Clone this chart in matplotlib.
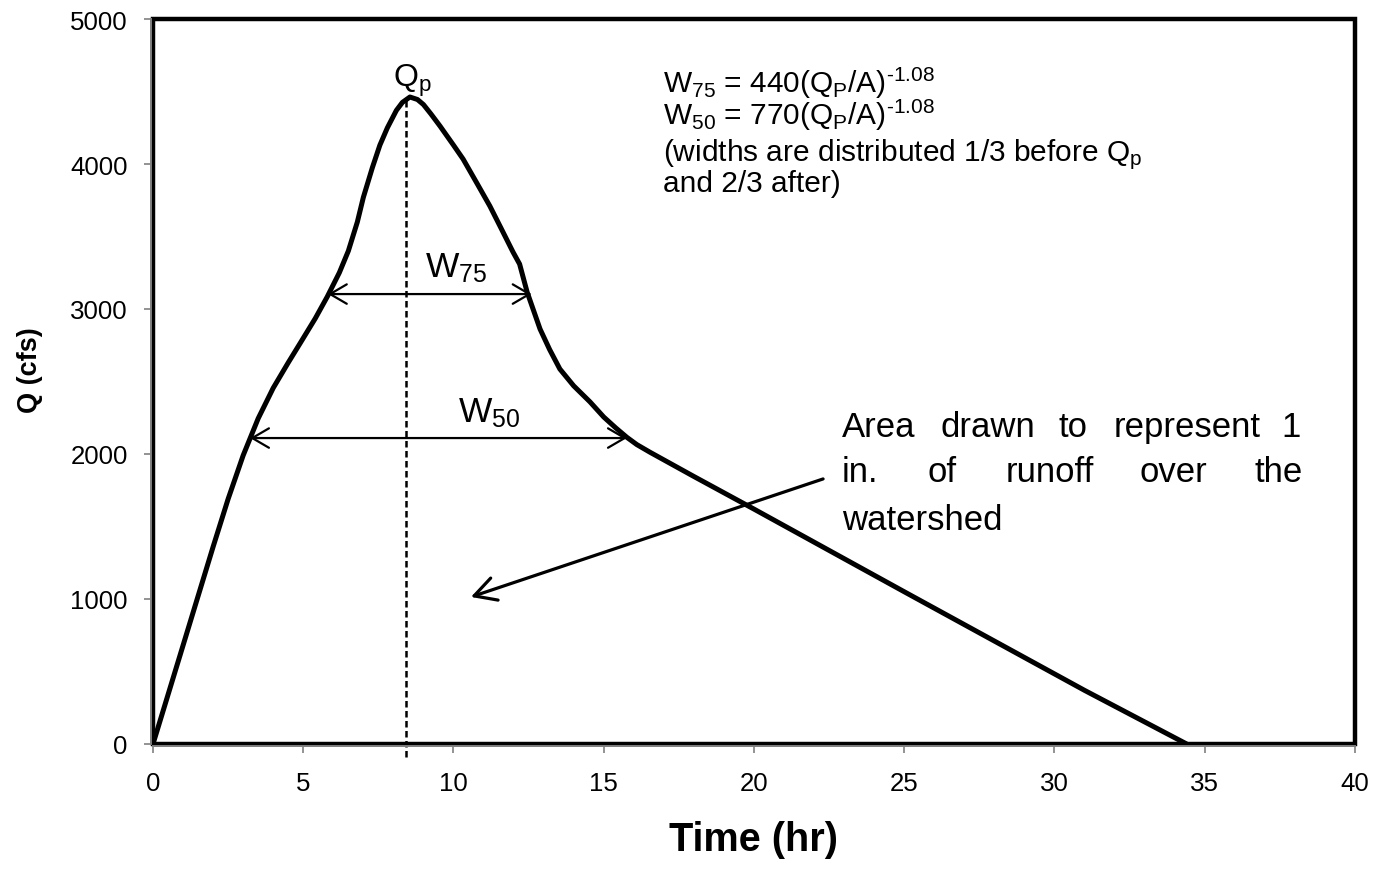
import matplotlib.pyplot as plt
from matplotlib.patches import Rectangle


plt.rcParams['font.family']      = ['Liberation Sans', 'DejaVu Sans']
plt.rcParams['mathtext.fontset'] = 'custom'
plt.rcParams['mathtext.rm']      = 'Liberation Sans'
plt.rcParams['mathtext.it']      = 'Liberation Sans:italic'
plt.rcParams['mathtext.bf']      = 'Liberation Sans:bold'

# hydrograph
time_hr = [0, 1, 2, 2.5, 3.0, 3.5, 4.0, 4.5, 4.9, 5.4, 5.8, 6.2, 6.5, 6.8,
           7.0, 7.3, 7.55, 7.8, 8.1, 8.3, 8.55, 8.8, 9.0, 9.25, 9.55, 10.0,
           10.32, 10.8, 11.21, 11.6, 11.98, 12.2, 12.45, 12.88, 13.2, 13.54,
           14.0, 14.54, 15.0, 15.4, 15.77, 16.1, 16.54, 18, 20, 22.5, 25,
           28, 31, 34.4]
flow_cfs = [0, 680, 1360, 1690, 1990, 2245, 2455, 2630, 2765, 2935, 3085,
            3250, 3400, 3600, 3770, 3975, 4130, 4250, 4370, 4425, 4462,
            4445, 4410, 4345, 4262, 4130, 4034, 3860, 3710, 3550, 3393,
            3310, 3117, 2862, 2720, 2586, 2470, 2360, 2255, 2180, 2115,
            2065, 2012, 1845, 1620, 1335, 1050, 710, 370, 0]

peak_time = 8.42
peak_flow = 4450

w75 = [5.82, 12.6, 3103]
w50 = [3.23, 15.77, 2110]

arrow_tail = [22.3, 1828]
arrow_head = [10.58, 1014]

x_ticks = [0, 5, 10, 15, 20, 25, 30, 35, 40]
y_ticks = [0, 1000, 2000, 3000, 4000, 5000]

formula_blocks = [r'W$_\mathrm{75}$ = 440(Q$_\mathrm{P}$/A)$^{\text{-1.08}}$' '\n'
                  r'W$_\mathrm{50}$ = 770(Q$_\mathrm{P}$/A)$^{\text{-1.08}}$',
                  r'(widths are distributed 1/3 before Q$_\mathrm{p}$' '\n'
                  'and 2/3 after)']
formula_y = [4276, 3814]

area_words = [['Area', 'drawn', 'to', 'represent', '1'],
              ['in.', 'of', 'runoff', 'over', 'the'],
              ['watershed']]
area_y = [2124, 1814, 1483]
area_x = [22.93, 38.17]


fig = plt.figure(figsize=[13.76, 8.7], dpi=100)
ax  = fig.add_axes([0.1112, 0.1437, 0.8735, 0.8333])

ax.plot(time_hr, flow_cfs, color='k', lw=3.6, solid_capstyle='butt',
        solid_joinstyle='round', zorder=4, clip_on=False)

ax.plot([peak_time, peak_time], [-90, peak_flow], color='k', lw=1.8,
        linestyle=(0, (2.6, 1.4)), clip_on=False, zorder=3)

# width arrows
for left, right, q in [w75, w50]:
    ax.annotate('', xy=(right, q), xytext=(left, q),
                arrowprops=dict(arrowstyle='<->,head_length=0.6,head_width=0.35',
                                lw=1.6, color='k', shrinkA=0, shrinkB=0,
                                mutation_scale=20))

ax.annotate('', xy=arrow_head, xytext=arrow_tail,
            arrowprops=dict(arrowstyle='->,head_length=0.7,head_width=0.38',
                            lw=2.3, color='k', shrinkA=0, shrinkB=0,
                            mutation_scale=22))

ax.text(9.05, 3228, r'W$_{\mathrm{75}}$', fontsize=25.5, va='baseline')
ax.text(10.15, 2228, r'W$_{\mathrm{50}}$', fontsize=25.5, va='baseline')
ax.text(7.99, 4538, r'Q$_\mathrm{p}$', fontsize=23, va='baseline')

for block, y in zip(formula_blocks, formula_y):
    ax.text(16.97, y, block, fontsize=21.5, va='baseline', linespacing=0.9)

# justified text box
fig.canvas.draw()
renderer = fig.canvas.get_renderer()
inv      = ax.transData.inverted()
left_px  = ax.transData.transform((area_x[0], 0))[0]
right_px = ax.transData.transform((area_x[1], 0))[0]

for words, y in zip(area_words, area_y):
    texts  = [ax.text(0, y, w, fontsize=25, va='baseline') for w in words]
    widths = [t.get_window_extent(renderer).width for t in texts]
    if len(words) > 1:
        gap = (right_px - left_px - sum(widths)) / (len(words) - 1)
    else:
        gap = 0
    x = left_px
    for t, w in zip(texts, widths):
        t.set_x(inv.transform((x, 0))[0])
        x += w + gap

ax.set_xlim(0, 40)
ax.set_ylim(0, 5000)
ax.set_xticks(x_ticks)
ax.set_yticks(y_ticks)

# frame: black box with grey axis lines over it
ax.add_patch(Rectangle((0, 0), 1, 1, transform=ax.transAxes, fill=False,
                       edgecolor='k', lw=3.2, clip_on=False, zorder=2))
for side in ['top', 'right']:
    ax.spines[side].set_visible(False)
for side in ['left', 'bottom']:
    ax.spines[side].set_color('#808080')
    ax.spines[side].set_linewidth(1.4)
    ax.spines[side].set_position(('outward', 1.2))
    ax.spines[side].set_zorder(5)

ax.tick_params(axis='both', colors='#808080', length=5, width=1.2,
               labelcolor='k', labelsize=18.6)
ax.tick_params(axis='x', pad=13)
ax.tick_params(axis='y', pad=12)

ax.set_xlabel('Time (hr)', fontsize=28.5, fontweight='bold')
ax.set_ylabel('Q (cfs)', fontsize=19.5, fontweight='bold')
ax.xaxis.set_label_coords(0.5, -0.105)
ax.yaxis.set_label_coords(-0.0915, 0.517)

plt.savefig('out.png', dpi=100)
